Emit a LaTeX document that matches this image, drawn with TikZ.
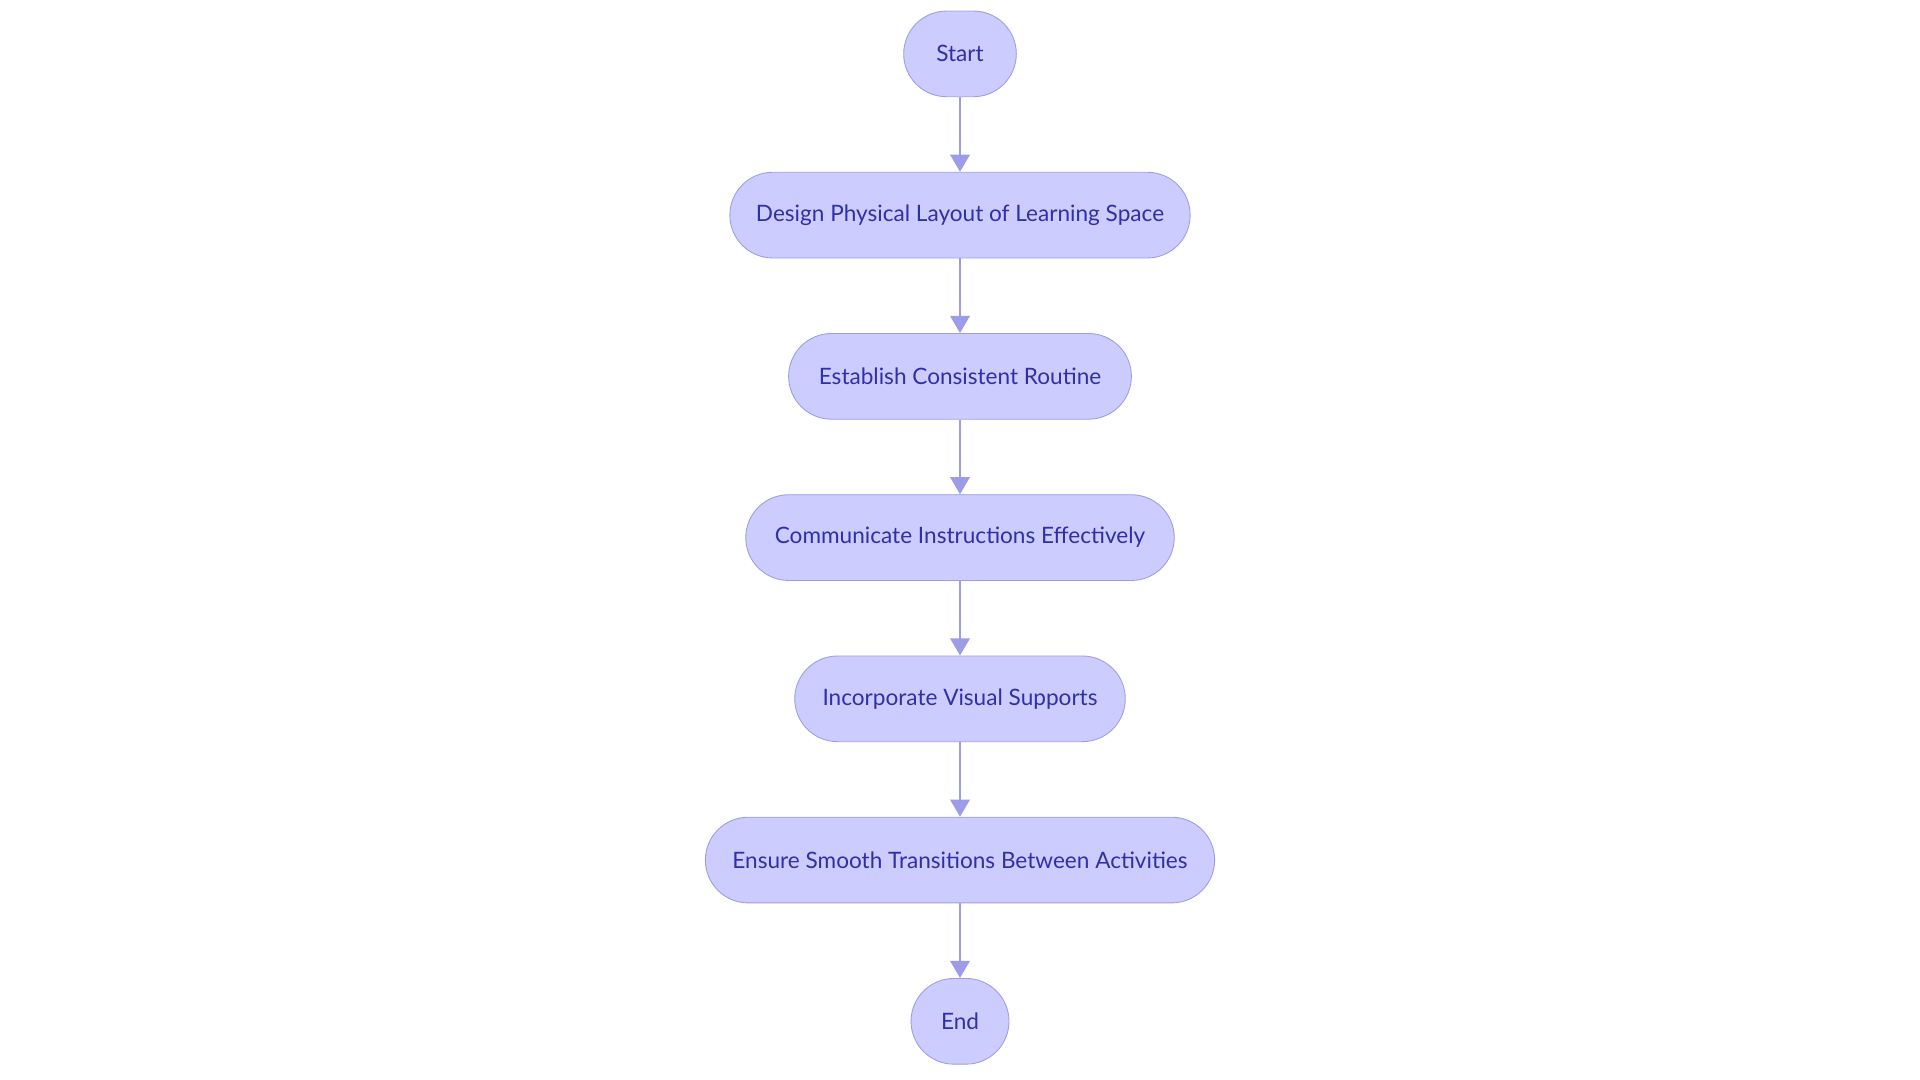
\documentclass[tikz,border=0pt]{standalone}
\usepackage{fontspec}
\setmainfont{Lato}
\usetikzlibrary{positioning,arrows.meta}
\definecolor{boxfill}{HTML}{CCCCFF}
\definecolor{boxline}{HTML}{9C9CE8}
\definecolor{boxtext}{HTML}{3030A8}
\definecolor{flow}{HTML}{9C9CE8}

\begin{document}
\begin{tikzpicture}[x=0.02cm,y=-0.02cm,
    flowstep/.style={draw=boxline, fill=boxfill, text=boxtext, rounded corners=0.7cm,
      minimum height=1.4cm, inner xsep=0pt, font=\fontsize{10.5}{12}\selectfont},
    flowarrow/.style={draw=flow, line width=1.2pt, -{Triangle[length=8pt,width=9pt]}},
    node distance=1.22cm]
  \useasboundingbox (0,0) rectangle (1568,882);
  \node[flowstep, minimum width=1.84cm] (start) at (784,44) {Start};
  \node[flowstep, minimum width=7.52cm, below=of start] (layout) {Design Physical Layout of Learning Space};
  \node[flowstep, minimum width=5.6cm, below=of layout] (routine) {Establish Consistent Routine};
  \node[flowstep, minimum width=7cm, below=of routine] (instruct) {Communicate Instructions Effectively};
  \node[flowstep, minimum width=5.4cm, below=of instruct] (visual) {Incorporate Visual Supports};
  \node[flowstep, minimum width=8.32cm, below=of visual] (transit) {Ensure Smooth Transitions Between Activities};
  \node[flowstep, minimum width=1.6cm, below=of transit] (end) {End};

  \foreach \a/\b in {start/layout,layout/routine,routine/instruct,instruct/visual,visual/transit,transit/end}
    \draw[flowarrow] (\a) -- (\b);
\end{tikzpicture}
\end{document}
